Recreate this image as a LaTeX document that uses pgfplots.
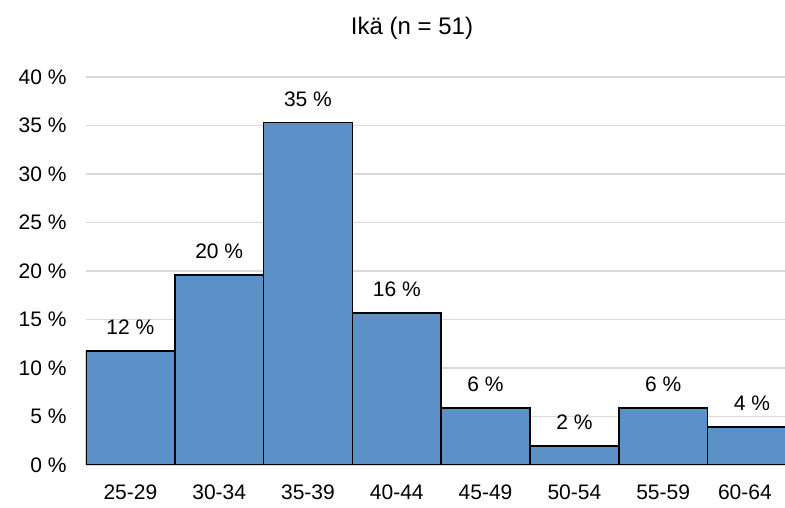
\documentclass[border=0pt]{standalone}
\usepackage{fontspec}
\setmainfont{Liberation Sans}
\usepackage{pgfplots}
\pgfplotsset{compat=1.18}
\definecolor{barblue}{RGB}{91,145,198}
\definecolor{gridgray}{RGB}{217,217,217}
\begin{document}
\begin{tikzpicture}
\begin{axis}[
    name=ax,
    scale only axis,
    width=699pt, height=388pt,
    xmin=-0.5, xmax=7.372,
    ymin=0, ymax=40,
    axis line style={draw=none},
    major tick length=0pt,
    ytick={0,5,...,40},
    ymajorgrids,
    grid style={gridgray, line width=1.3pt},
    xtick={0,1,2,3,4,5,6,6.92},
    xticklabels={25-29,30-34,35-39,40-44,45-49,50-54,55-59,60-64},
    yticklabel={\pgfmathprintnumber{\tick}~\%},
    /pgf/number format/assume math mode=true,
    tick label style={font=\fontsize{21}{24}\selectfont},
    xticklabel style={yshift=-16pt},
    yticklabel style={xshift=-16pt},
    ybar, bar width=1,
    nodes near coords,
    point meta=explicit symbolic,
    every node near coord/.append style={font=\fontsize{21}{24}\selectfont, black, yshift=12pt},
]
% Ikä-jakauma, osuudet vastaajista
\addplot[fill=barblue, draw=black, line width=1.6pt] coordinates {
    (0,11.76) [12 \%]
    (1,19.61) [20 \%]
    (2,35.29) [35 \%]
    (3,15.69) [16 \%]
    (4,5.88)  [6 \%]
    (5,1.96)  [2 \%]
    (6,5.88)  [6 \%]
    (7,3.92)  [4 \%]
};
\end{axis}
\node[font=\fontsize{24}{28}\selectfont] at ([xshift=326pt,yshift=49pt]ax.north west) {Ikä (n = 51)};
\pgfresetboundingbox
\path[use as bounding box] ([xshift=-86pt,yshift=-43pt]ax.south west) rectangle ([yshift=77pt]ax.north east);
\end{tikzpicture}
\end{document}
